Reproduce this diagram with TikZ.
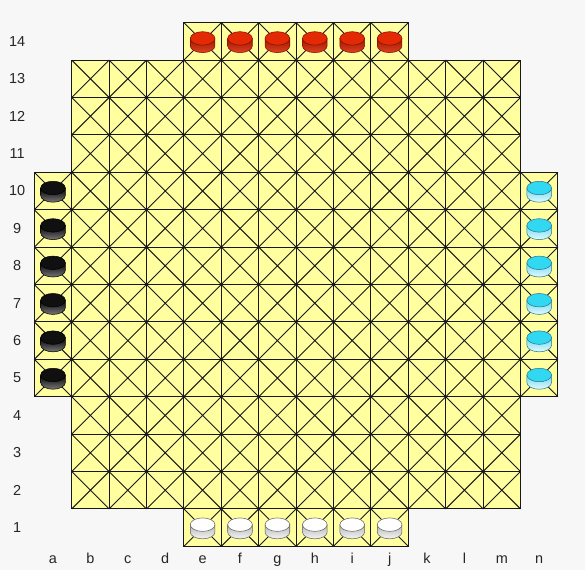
\documentclass[tikz,border=0pt]{standalone}
\usepackage{fontspec}
\setmainfont{Liberation Sans}
\usetikzlibrary{positioning}

\definecolor{bggray}{HTML}{F7F7F7}
\definecolor{boardyellow}{HTML}{FFFFA0}
\definecolor{gridline}{HTML}{181818}
\definecolor{redtop}{HTML}{E42A04}
\definecolor{redside}{HTML}{9C1800}
\definecolor{redlow}{HTML}{E04020}
\definecolor{rededge}{HTML}{801000}
\definecolor{blacktop}{HTML}{101010}
\definecolor{blackside}{HTML}{000000}
\definecolor{blacklow}{HTML}{787878}
\definecolor{blackedge}{HTML}{000000}
\definecolor{whitetop}{HTML}{FFFFFF}
\definecolor{whiteside}{HTML}{B8B8B8}
\definecolor{whitelow}{HTML}{F4F4F4}
\definecolor{whiteedge}{HTML}{606060}
\definecolor{cyantop}{HTML}{30D8F2}
\definecolor{cyanside}{HTML}{70D8EE}
\definecolor{cyanlow}{HTML}{E4FAFF}
\definecolor{cyanedge}{HTML}{2A7890}

\tikzset{
  cellbox/.style={fill=boardyellow,draw=gridline,line width=0.75pt},
  cross/.style={draw=gridline,line width=0.7pt},
  label/.style={font=\fontsize{11}{13}\selectfont,inner sep=0pt,text=black!85}
}

\newcommand{\boardcell}[2]{%
  \filldraw[cellbox] (#1,#2) rectangle ++(1,1);
  \draw[cross] (#1,#2) -- ++(1,1) (#1+1,#2) -- ++(-1,1);}

\newcommand{\gamepiece}[3]{%
  \begin{scope}[shift={(#1,#2)}]
    \shade[top color=#3side,bottom color=#3low,draw=#3edge,line width=0.4pt]
      (-0.33,0.08) -- (-0.33,-0.12)
      arc[start angle=180,end angle=360,x radius=0.33,y radius=0.18]
      -- (0.33,0.08) -- cycle;
    \filldraw[fill=#3top,draw=#3edge,line width=0.4pt]
      (0,0.08) ellipse[x radius=0.33,y radius=0.18];
  \end{scope}}

\begin{document}
\begin{tikzpicture}[x=1cm,y=1cm]
  \fill[bggray] (-0.917,-0.634) rectangle (14.724,14.607);
  \useasboundingbox (-0.917,-0.634) rectangle (14.724,14.607);

  % board
  \foreach \y in {4,...,9}
    \foreach \x in {0,...,13} {\boardcell{\x}{\y}}
  \foreach \y in {1,2,3,10,11,12}
    \foreach \x in {1,...,12} {\boardcell{\x}{\y}}
  \foreach \y in {0,13}
    \foreach \x in {4,...,9} {\boardcell{\x}{\y}}

  % points
  \foreach \y in {5,...,9}
    \foreach \x in {1,...,13} {\fill[gridline] (\x,\y) circle (0.04);}
  \foreach \y in {2,3,4,10,11,12}
    \foreach \x in {2,...,12} {\fill[gridline] (\x,\y) circle (0.04);}
  \foreach \y in {1,13}
    \foreach \x in {5,...,9} {\fill[gridline] (\x,\y) circle (0.04);}

  % labels
  \foreach \l [count=\i from 0] in {a,b,c,d,e,f,g,h,i,j,k,l,m,n}
    \node[label,anchor=base] (col-\l) at (\i+0.5,-0.47) {\l};
  \foreach \r in {1,...,14}
    \node[label] (row-\r) at (-0.46,\r-0.5) {\r};

  % pieces
  \foreach \x in {4,...,9} {
    \gamepiece{\x+0.5}{13.5}{red}
    \gamepiece{\x+0.5}{0.5}{white}}
  \foreach \y in {4,...,9} {
    \gamepiece{0.5}{\y+0.5}{black}
    \gamepiece{13.5}{\y+0.5}{cyan}}
\end{tikzpicture}
\end{document}
